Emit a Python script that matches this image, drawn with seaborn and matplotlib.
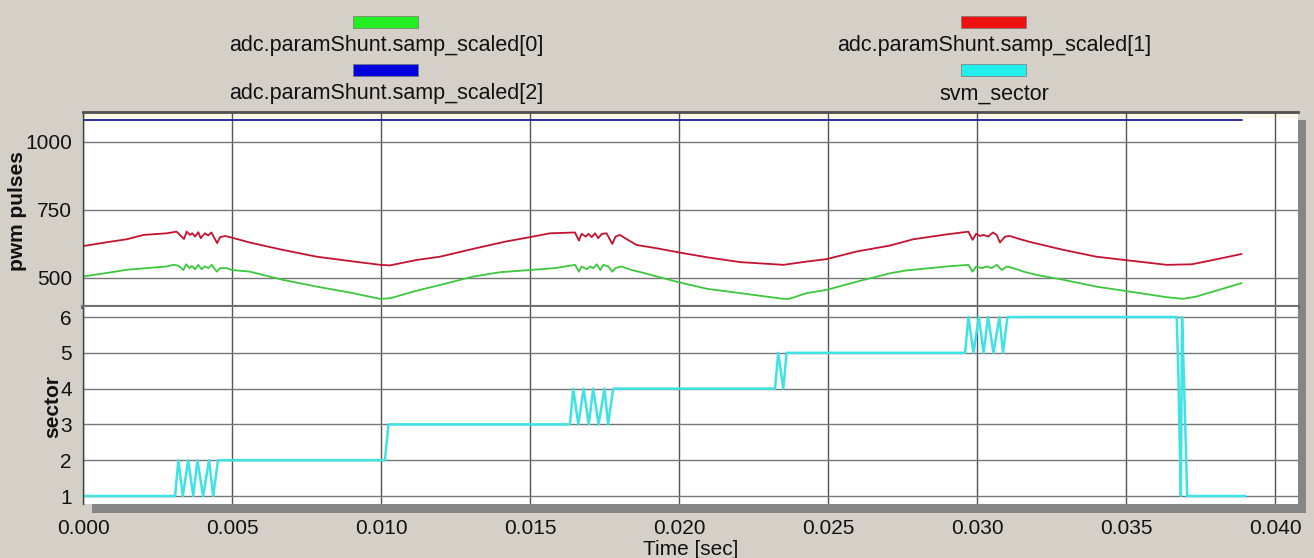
import numpy as np
import pandas as pd
import matplotlib
matplotlib.use("Agg")
import matplotlib.pyplot as plt
from matplotlib.patches import Rectangle
from matplotlib.ticker import MultipleLocator
import seaborn as sns

# ---- samples (time in ms) ----
shunt1_t = [0.0, 0.91, 1.47, 2.03, 2.81, 3.14, 3.39, 3.48, 3.59, 3.67, 3.76, 3.87, 3.95,
            4.09, 4.20, 4.31, 4.50, 4.60, 4.77, 4.93, 5.6, 6.7, 7.84, 8.96, 9.97, 10.3,
            11.2, 11.98, 13.1, 14.2, 15.0, 15.67, 16.51, 16.64, 16.73, 16.87, 16.96, 17.07,
            17.18, 17.29, 17.41, 17.57, 17.76, 17.87, 18.02, 18.19, 18.58, 19.25, 20.03,
            20.93, 22.05, 23.5, 24.28, 24.95, 25.96, 27.08, 27.86, 28.98, 29.71, 29.85,
            29.97, 30.10, 30.21, 30.38, 30.53, 30.66, 30.77, 30.94, 31.11, 31.33, 31.78,
            32.9, 34.0, 35.1, 36.37, 37.2, 37.93, 38.88]
shunt1_v = [617, 633, 642, 658, 664, 670, 643, 670, 658, 664, 652, 668, 646,
            664, 656, 667, 628, 650, 654, 650, 630, 603, 578, 562, 548, 546,
            566, 578, 607, 634, 650, 664, 667, 637, 662, 652, 662, 650,
            664, 646, 662, 664, 625, 652, 658, 646, 621, 609, 593,
            576, 558, 548, 560, 569, 597, 619, 642, 660, 670, 640,
            662, 654, 658, 652, 667, 658, 630, 652, 654, 646, 632,
            603, 578, 564, 548, 550, 566, 588]

shunt0_t = [0.0, 0.91, 1.47, 2.81, 3.03, 3.20, 3.37, 3.46, 3.57, 3.65, 3.76, 3.87, 3.98,
            4.09, 4.21, 4.32, 4.49, 4.60, 4.82, 4.99, 5.6, 6.7, 7.84, 8.96, 9.97, 10.3,
            11.2, 11.98, 13.1, 14.0, 15.0, 15.84, 16.51, 16.64, 16.73, 16.90, 17.02, 17.13,
            17.24, 17.36, 17.46, 17.63, 17.76, 17.87, 18.07, 18.41, 18.86, 19.19, 20.03,
            20.93, 22.05, 23.5, 23.7, 24.28, 24.95, 25.96, 27.08, 27.6, 28.98, 29.71,
            29.85, 29.97, 30.16, 30.33, 30.49, 30.66, 30.83, 31.0, 31.22, 31.56, 32.0,
            32.45, 32.9, 34.0, 35.1, 36.37, 36.9, 37.35, 37.93, 38.88]
shunt0_v = [505, 520, 530, 542, 548, 545, 529, 550, 536, 544, 532, 548, 532,
            542, 536, 548, 523, 536, 536, 529, 523, 493, 468, 446, 423, 425,
            453, 474, 505, 521, 529, 536, 548, 523, 542, 532, 542, 536,
            550, 529, 548, 542, 523, 536, 542, 529, 517, 507, 483,
            460, 444, 423, 423, 444, 456, 486, 517, 527, 542, 548,
            523, 542, 536, 542, 536, 548, 529, 542, 536, 523, 511,
            502, 493, 468, 450, 429, 423, 431, 450, 481]

shunt2_t = [0.0, 38.88]
shunt2_v = [1080, 1080]

sector_t = [0.0, 3.09, 3.20, 3.35, 3.53, 3.70, 3.84, 4.03, 4.23, 4.37, 4.53, 10.13, 10.25,
            16.34, 16.45, 16.62, 16.80, 16.97, 17.12, 17.30, 17.50, 17.62, 17.79,
            23.22, 23.33, 23.50, 23.61,
            29.60, 29.71, 29.88, 30.06, 30.22, 30.37, 30.55, 30.75, 30.87, 31.02,
            36.70, 36.76, 36.80, 36.84, 36.88, 36.94, 37.00, 37.05, 39.0]
sector_v = [1, 1, 2, 1, 2, 1, 2, 1, 2, 1, 2, 2, 3,
            3, 4, 3, 4, 3, 4, 3, 4, 3, 4,
            4, 5, 4, 5,
            5, 6, 5, 6, 5, 6, 5, 6, 5, 6,
            6, 4.3, 2.5, 1, 6, 4.3, 2.6, 1, 1]

series_names = ["adc.paramShunt.samp_scaled[0]", "adc.paramShunt.samp_scaled[1]",
                "adc.paramShunt.samp_scaled[2]", "svm_sector"]
line_colors = ["#3cc83c", "#c41230", "#1c1c9c", "#3fe3e3"]
key_colors = ["#22ee22", "#ee1111", "#0000dd", "#22eeee"]

def frame(t, v):
    return pd.DataFrame({"time": np.asarray(t) / 1000.0, "value": v})

W, H = 1314, 558
BG = "#d4d0c8"

sns.set_theme(style="white")
plt.rcParams["font.family"] = ["Liberation Sans", "DejaVu Sans"]

fig = plt.figure(figsize=(W / 100, H / 100), dpi=100, facecolor=BG)

# drop shadow behind the plot frame
fig.patches.append(Rectangle((92 / W, 1 - 513 / H), (1306 - 92) / W, (513 - 120) / H,
                             transform=fig.transFigure, facecolor="#858585",
                             edgecolor="none", zorder=-1))

ax1 = fig.add_axes([83 / W, 1 - 307 / H, 1215 / W, 195 / H])
ax2 = fig.add_axes([83 / W, 1 - 504 / H, 1215 / W, 197 / H])

for ax in (ax1, ax2):
    ax.set_facecolor("white")
    ax.set_axisbelow(True)
    ax.set_xlim(0, 0.04077)
    ax.xaxis.set_major_locator(MultipleLocator(0.005))
    ax.xaxis.set_minor_locator(MultipleLocator(0.001))
    ax.grid(which="major", axis="y", color="#767676", lw=1.0)
    ax.grid(which="major", axis="x", color="#555555", lw=1.0)
    ax.tick_params(axis="x", which="major", length=0, labelsize=15, colors="#111111")
    ax.tick_params(axis="x", which="minor", direction="in", length=8, width=1, color="#555555")
    ax.tick_params(axis="y", which="major", direction="out", length=7, width=1,
                   color="#444444", labelsize=15, labelcolor="#111111", pad=1)
    ax.tick_params(axis="y", which="minor", direction="in", length=8, width=1, color="#666666")
    ax.spines["right"].set_visible(False)
    ax.spines["left"].set_color("#404040")
    ax.spines["left"].set_linewidth(1.0)

# ---- upper panel: shunt samples ----
ax1.add_patch(Rectangle((0, 0.968), 1, 0.032, transform=ax1.transAxes,
                        facecolor="#fbf7e6", edgecolor="none", zorder=0.2))
for t, v, c in [(shunt0_t, shunt0_v, line_colors[0]),
                (shunt1_t, shunt1_v, line_colors[1]),
                (shunt2_t, shunt2_v, line_colors[2])]:
    sns.lineplot(data=frame(t, v), x="time", y="value", ax=ax1, color=c, lw=1.3,
                 estimator=None, sort=False, legend=False)
ax1.set_ylim(393, 1110)
ax1.set_yticks([500, 750, 1000])
ax1.yaxis.set_minor_locator(MultipleLocator(50))
ax1.tick_params(axis="x", labelbottom=False)
ax1.set_xlabel("")
ax1.set_ylabel("pwm pulses", fontsize=15, fontweight="bold", color="#111111",
               rotation=90, ha="center", va="center")
ax1.yaxis.set_label_coords(-0.0539, 0.492)
ax1.spines["top"].set_color("#505050")
ax1.spines["top"].set_linewidth(2.0)
ax1.spines["bottom"].set_color("#707070")
ax1.spines["bottom"].set_linewidth(3.0)

# ---- lower panel: sector ----
sns.lineplot(data=frame(sector_t, sector_v), x="time", y="value", ax=ax2,
             color=line_colors[3], lw=1.8, estimator=None, sort=False, legend=False)
ax2.set_ylim(0.777, 6.28)
ax2.set_yticks([1, 2, 3, 4, 5, 6])
ax2.yaxis.set_minor_locator(MultipleLocator(0.2))
ax2.set_xticks(np.arange(0, 0.0401, 0.005))
ax2.set_xticklabels([f"{v:.3f}" for v in np.arange(0, 0.0401, 0.005)])
ax2.tick_params(axis="x", which="major", pad=11)
ax2.spines["top"].set_visible(False)
ax2.spines["bottom"].set_visible(False)
ax2.set_ylabel("sector", fontsize=15, fontweight="bold", color="#111111",
               rotation=90, ha="center", va="center")
ax2.yaxis.set_label_coords(-0.0245, 0.497)
ax2.set_xlabel("Time [sec]", fontsize=15, color="#111111", va="center")
ax2.xaxis.set_label_coords(0.5004, -0.232)

# ---- key above the plot ----
key_pos = [(386, 22, 46), (994, 22, 46), (386, 70, 94), (994, 70, 94)]
for (cx, py, ty), name, kc in zip(key_pos, series_names, key_colors):
    fig.patches.append(Rectangle(((cx - 33) / W, 1 - (py + 6) / H), 65 / W, 12 / H,
                                 transform=fig.transFigure, facecolor=kc,
                                 edgecolor="#777777", lw=0.5))
    fig.text(cx / W, 1 - ty / H, name, ha="center", va="center", fontsize=15.5,
             color="#111111")

fig.savefig("out.png", dpi=100, facecolor=BG)
